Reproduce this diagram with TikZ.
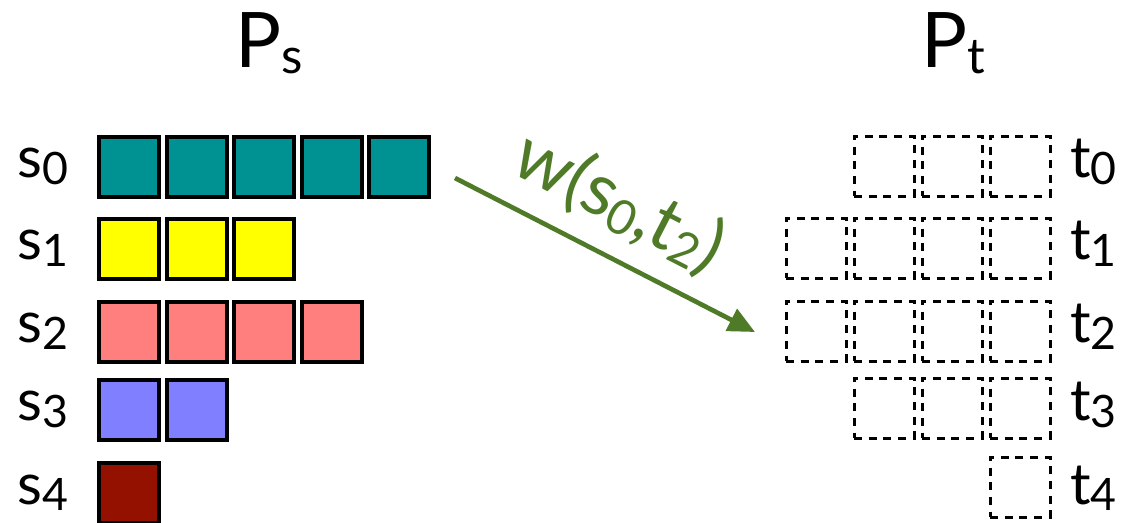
\documentclass[tikz,border=0pt]{standalone}
\usepackage{fontspec}
\setmainfont{Lato}
\usetikzlibrary{arrows.meta}

\definecolor{tealbox}{RGB}{0,146,146}
\definecolor{yellowbox}{RGB}{255,255,0}
\definecolor{salmonbox}{RGB}{255,127,127}
\definecolor{bluebox}{RGB}{127,127,255}
\definecolor{maroonbox}{RGB}{148,17,0}
\definecolor{weightgreen}{RGB}{79,123,40}

% letter followed by a lowered index digit
\newcommand\idxlbl[2]{#1\raisebox{-5pt}{\fontsize{33.5}{36}\selectfont #2}}
\newcommand\smallidx[1]{\raisebox{-5pt}{\fontsize{36}{40}\selectfont #1}}

\begin{document}
\begin{tikzpicture}[x=0.75pt,y=-0.75pt,
  cell/.style={draw=black, line width=3pt, minimum size=45pt, inner sep=0pt},
  slot/.style={draw=black, line width=2.25pt, dash pattern=on 6pt off 5pt,
               minimum size=45pt, inner sep=0pt},
  rowlabel/.style={font=\fontsize{43}{46}\selectfont, inner sep=0pt, anchor=base west},
  title/.style={font=\fontsize{57.5}{60}\selectfont, inner sep=0pt, anchor=base west},
  weight/.style={draw=weightgreen, line width=3.5pt,
                 -{Triangle[length=20pt,width=18pt]}}]
\useasboundingbox (0,0) rectangle (1122,522);

% titles
\node[title] (Ps) at (235,67) {P\raisebox{-5pt}{\fontsize{37}{40}\selectfont s}};
\node[title] (Pt) at (921,67) {P\raisebox{-5pt}{\fontsize{37}{40}\selectfont t}};

% source rows: index / cell count / colour / row centre
\foreach \i/\n/\c/\y in {0/5/tealbox/166.5, 1/3/yellowbox/248.5, 2/4/salmonbox/331.5,
                         3/2/bluebox/409.5, 4/1/maroonbox/493}{
  \node[rowlabel] (ls\i) at (17,\y+11) {\idxlbl{s}{\i}};
  \foreach \k in {1,...,\n}{
    \node[cell, fill=\c] (s\i c\k) at ({129+67.6*(\k-1)},\y) {};
  }
}

% target rows: index / slot count / row centre / label baseline
\foreach \i/\n/\y/\b in {0/3/166/177.5, 1/4/248/259.5, 2/4/331/342.5,
                         3/3/408/420.5, 4/1/487/504}{
  \node[rowlabel] (lt\i) at (1070,\b) {\idxlbl{t}{\i}};
  \foreach \k in {1,...,\n}{
    \node[slot] (t\i c\k) at ({1020-68*(\k-1)},\y) {};
  }
}

% transport weight from s0 to t2
\coordinate (wS) at (455,178);
\coordinate (wE) at (755,332);
\draw[weight] (wS) -- (wE)
  node[pos=0.467, sloped, above=13pt, inner sep=0pt, text=weightgreen,
       font=\fontsize{55}{60}\selectfont] (wlbl)
  {w(s\smallidx{0},t\smallidx{2})};
\end{tikzpicture}
\end{document}
